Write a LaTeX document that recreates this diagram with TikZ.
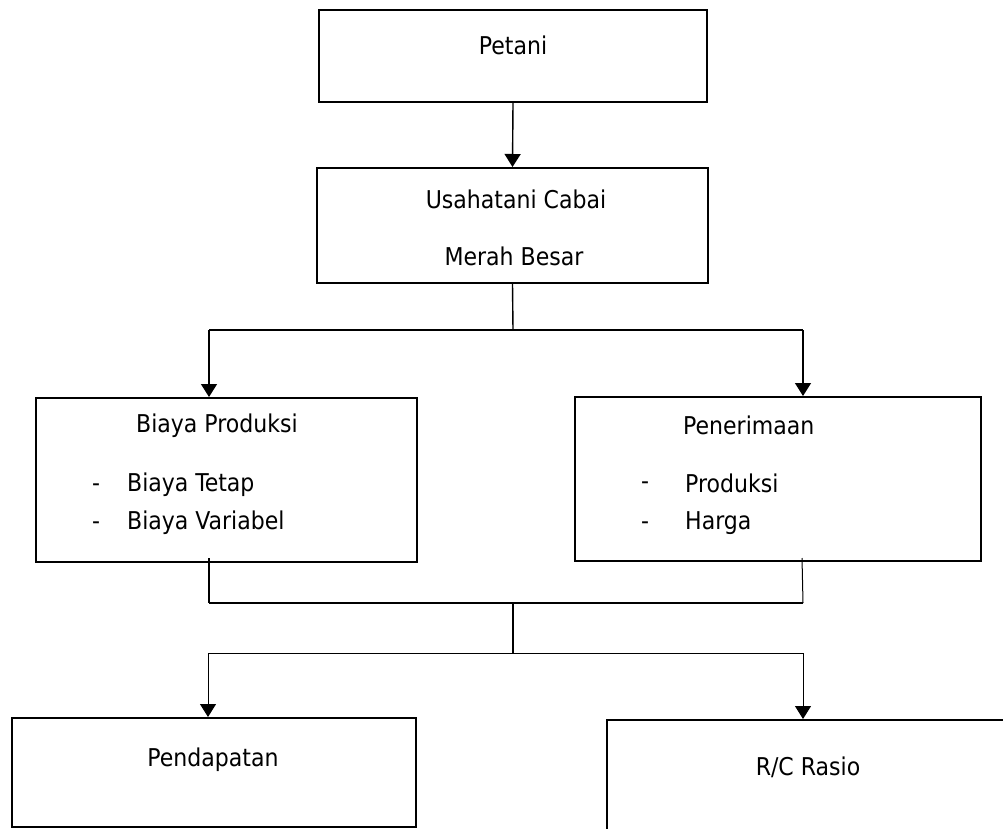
\documentclass[tikz,border=0pt]{standalone}
\usepackage{fontspec}
\setmainfont{DejaVu Sans Condensed}
\usetikzlibrary{arrows.meta}
\begin{document}
\begin{tikzpicture}[x=1pt,y=-1pt,
  box/.style={draw=black,line width=2pt,rectangle,inner sep=0pt},
  txt/.style={font=\fontsize{24.5}{28}\selectfont,inner sep=0pt},
  conn/.style={draw=black,line width=1.4pt},
  arr/.style={conn,-{Triangle[length=13pt,width=16pt]}}]
\useasboundingbox (0,0) rectangle (1003,829);
\clip (0,0) rectangle (1003,829);
% boxes
\node[box,minimum width=388pt,minimum height=92pt] (p) at (513,56) {};
\node[box,minimum width=391pt,minimum height=115pt] (u) at (512.5,225.5) {};
\node[box,minimum width=381pt,minimum height=164pt] (b) at (226.5,480) {};
\node[box,minimum width=406pt,minimum height=164pt] (r) at (778,479) {};
\node[box,minimum width=404pt,minimum height=109pt] (d) at (214,772.5) {};
\node[box,minimum width=403pt,minimum height=130pt] (c) at (808.5,785) {};
% texts
\node[txt] (pt) at (513,45) {Petani};
\node[txt] (ut1) at (516,199) {Usahatani Cabai};
\node[txt] (ut2) at (514,256) {Merah Besar};
\node[txt,anchor=west] (bt) at (136,426) {Biaya Produksi};
\node[txt,anchor=west] (bd1) at (92,488) {-};
\node[txt,anchor=west] (bt1) at (127,485) {Biaya Tetap};
\node[txt,anchor=west] (bd2) at (92,526) {-};
\node[txt,anchor=west] (bt2) at (127,523) {Biaya Variabel};
\node[txt,anchor=west] (rt) at (683,425) {Penerimaan};
\node[txt,anchor=west] (rd1) at (641,486) {-};
\node[txt,anchor=west] (rt1) at (685,483) {Produksi};
\node[txt,anchor=west] (rd2) at (641,526) {-};
\node[txt,anchor=west] (rt2) at (685,523) {Harga};
\node[txt] (dt) at (213,760) {Pendapatan};
\node[txt] (ct) at (808,767) {R/C Rasio};
% junctions
\coordinate (j1) at (513,330);
\coordinate (jl1) at (209,330);
\coordinate (jr1) at (803,330);
\coordinate (bs) at (209,558);
\coordinate (rs) at (802,558);
\coordinate (jl2) at (209,603);
\coordinate (jr2) at (803,603);
\coordinate (j2) at (513,603);
\coordinate (j3) at (513,653);
\coordinate (jl3) at (208,653);
\coordinate (jr3) at (803,653);
% connectors
\draw[arr] (p.south) -- (u.north);
\draw[conn] (u.south) -- (j1);
\draw[conn] (jl1) -- (jr1);
\draw[arr] (jl1) -- (jl1 |- b.north);
\draw[arr] (jr1) -- (jr1 |- r.north);
\draw[conn] (bs) -- (jl2);
\draw[conn,line width=1pt] (rs) -- (jr2);
\draw[conn] (jl2) -- (jr2);
\draw[conn] (j2) -- (j3);
\draw[conn,line width=1pt] (jl3) -- (jr3);
\draw[arr,line width=1pt] (jl3) -- (jl3 |- d.north);
\draw[arr,line width=1pt] (jr3) -- (jr3 |- c.north);
\end{tikzpicture}
\end{document}
